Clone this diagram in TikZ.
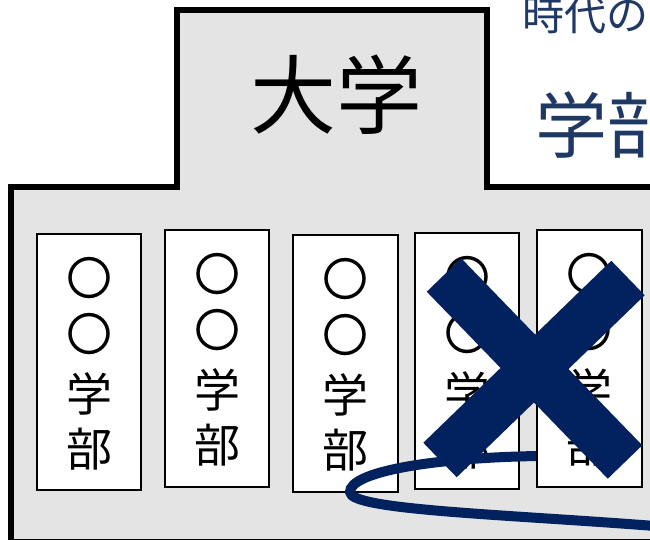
\documentclass[tikz,border=0pt]{standalone}
\usepackage{fontspec}
\newfontfamily\cjk{Noto Sans CJK JP}
\definecolor{bggray}{HTML}{E4E4E4}
\definecolor{navyx}{HTML}{02215F}
\definecolor{navytxt}{HTML}{203864}
\tikzset{
  building/.style={line width=6pt, draw=black, fill=bggray, line join=miter},
  deptbox/.style={line width=2pt, draw=black, fill=white},
  deptchar/.style={font=\cjk\fontsize{46}{46}\selectfont, inner sep=0pt, anchor=base},
  crossbar/.style={line width=48pt, draw=navyx},
  loopline/.style={line width=10pt, draw=navyx}
}
\newcommand{\deptbox}[6]{%
  % #1 name, #2 left, #3 top, #4 right, #5 bottom, #6 center x
  \draw[deptbox] (#2,#3) rectangle (#4,#5);
  \coordinate (#1) at (#6,#3);
  \node[deptchar] (#1a) at ([yshift=-61.5pt]#1) {〇};
  \node[deptchar] (#1b) at ([yshift=-117.5pt]#1) {〇};
  \node[deptchar] (#1c) at ([yshift=-177.5pt]#1) {学};
  \node[deptchar] (#1d) at ([yshift=-232.5pt]#1) {部};
}
\begin{document}
\begin{tikzpicture}[x=1pt,y=-1pt]
\useasboundingbox (0,0) rectangle (650,539);
\clip (0,0) rectangle (650,539);
\fill[white] (0,0) rectangle (650,539);
% building outline
\draw[building] (11,542) -- (11,187) -- (177,187) -- (177,10) -- (487,10) -- (487,187) -- (665,187) -- (665,542) -- cycle;
\node[font=\cjk\fontsize{86}{86}\selectfont, inner sep=0pt, anchor=base] (title) at (336,127) {大学};
% top right texts
\node[font=\cjk\fontsize{42}{42}\selectfont, text=navytxt, inner sep=0pt, anchor=base west] (era) at (522,30) {時代の};
\node[font=\cjk\fontsize{72}{72}\selectfont, text=navytxt, inner sep=0pt, anchor=base west] (fac) at (535,152) {学部};
% department boxes
\deptbox{d1}{37}{234}{141}{490}{89}
\deptbox{d2}{165}{230}{269}{487}{217}
\deptbox{d3}{293}{235}{398}{492}{345.5}
\deptbox{d4}{415}{233}{519}{489}{467}
% loop line
\coordinate (ls) at (537,456);
\coordinate (ll) at (350,492);
\coordinate (le) at (655,526);
\draw[loopline] (ls) .. controls (430,458) and (350,472) .. (ll) .. controls (350,510) and (500,514) .. (le);
\deptbox{d5}{537}{230}{642}{487}{589.5}
% cross
\coordinate (x1a) at (444,275);
\coordinate (x1b) at (625,462);
\coordinate (x2a) at (628,278);
\coordinate (x2b) at (440,460);
\draw[crossbar] (x1a) -- (x1b);
\draw[crossbar] (x2a) -- (x2b);
\end{tikzpicture}
\end{document}
